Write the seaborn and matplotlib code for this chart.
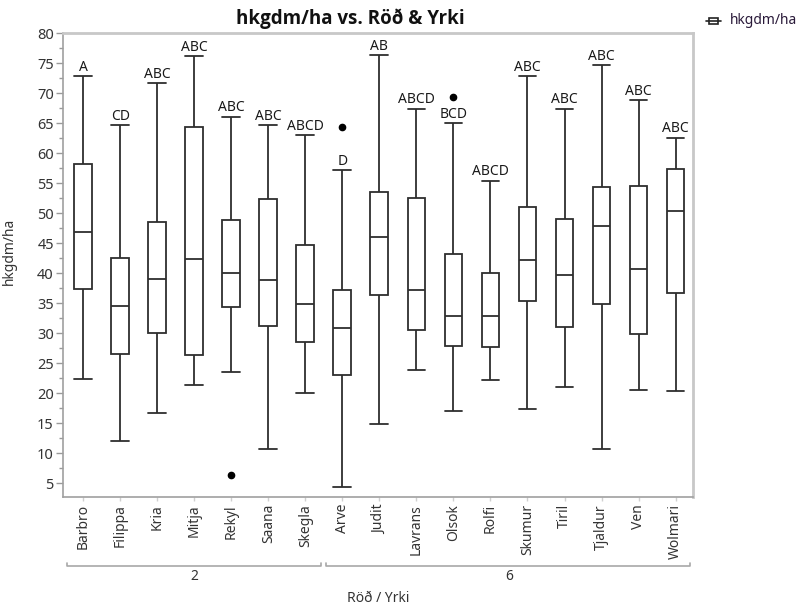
import numpy as np
import pandas as pd
import matplotlib
matplotlib.use("Agg")
import matplotlib.pyplot as plt
import matplotlib.transforms as mtransforms
from matplotlib.patches import Rectangle
from matplotlib.lines import Line2D
import seaborn as sns

# ---- data ----
categories = ["Barbro", "Filippa", "Kria", "Mitja", "Rekyl", "Saana", "Skegla",
              "Arve", "Judit", "Lavrans", "Olsok", "Rolfi", "Skumur", "Tiril",
              "Tjaldur", "Ven", "Wolmari"]
groups = ["2"] * 7 + ["6"] * 10
whisker_high = [72.9, 64.7, 71.7, 76.2, 66.1, 64.7, 63.0, 57.2, 76.4, 67.4,
                65.0, 55.4, 72.9, 67.4, 74.7, 68.8, 62.6]
q3 = [58.2, 42.6, 48.6, 64.4, 48.8, 52.4, 44.7, 37.2, 53.5, 52.5,
      43.2, 40.1, 51.0, 49.0, 54.3, 54.5, 57.4]
median = [46.9, 34.5, 39.1, 42.4, 40.1, 38.9, 34.9, 30.8, 46.0, 37.2,
          32.9, 32.9, 42.2, 39.7, 47.9, 40.7, 50.3]
q1 = [37.4, 26.5, 30.0, 26.3, 34.3, 31.2, 28.5, 23.0, 36.4, 30.5,
      27.9, 27.7, 35.4, 31.0, 34.8, 29.8, 36.7]
whisker_low = [22.4, 12.1, 16.7, 21.4, 23.5, 10.7, 20.1, 4.4, 14.8, 23.8,
               17.0, 22.2, 17.4, 21.0, 10.7, 20.5, 20.3]
outliers = {"Rekyl": 6.3, "Arve": 64.3, "Olsok": 69.3}
letters = ["A", "CD", "ABC", "ABC", "ABC", "ABC", "ABCD", "D", "AB", "ABCD",
           "BCD", "ABCD", "ABC", "ABC", "ABC", "ABC", "ABC"]
group_names = ["2", "6"]

# ---- build per-category samples reproducing the five-number summaries ----
rows = []
for i, c in enumerate(categories):
    lo, a, m, b, hi = whisker_low[i], q1[i], median[i], q3[i], whisker_high[i]
    if c in outliers:
        o = outliers[c]
        if o < lo:
            vals = [o, lo, a, a, m, b, b, hi, hi]
        else:
            vals = [lo, lo, a, a, m, b, b, hi, o]
    else:
        vals = [lo, a, m, b, hi]
    for v in vals:
        rows.append({"Yrki": c, "hkgdm/ha": v})
df = pd.DataFrame(rows)

sns.set_style("white")
plt.rcParams["font.family"] = ["Noto Sans", "DejaVu Sans"]

W, H = 803, 608
fig = plt.figure(figsize=(W / 100, H / 100), dpi=100)
ax = fig.add_axes([63.5 / W, 1 - 497 / H, 629.5 / W, 463.7 / H])

line_col = "#2e2e2e"
sns.boxplot(data=df, x="Yrki", y="hkgdm/ha", order=categories, ax=ax,
            color="white", linecolor=line_col, linewidth=1.3, width=0.48,
            capwidths=0.48,
            flierprops=dict(marker="o", markerfacecolor="black",
                            markeredgecolor="black", markersize=4.5))

ax.set_xlim(-0.53, 16.47)
ax.set_ylim(2.7, 80)
ax.set_yticks(np.arange(5, 81, 5))
ax.set_yticks(np.arange(7.5, 80, 5), minor=True)
ax.tick_params(axis="y", which="major", direction="out", length=5, width=1,
               color="#9a9a9a", labelsize=10.5, labelcolor="#333333", pad=2, left=True)
ax.tick_params(axis="y", which="minor", direction="out", length=3, width=1,
               color="#9a9a9a", left=True)
ax.tick_params(axis="x", which="major", direction="out", length=3, width=1,
               color="#d0d0d0", labelsize=10, labelcolor="#333333", pad=2, bottom=True)
ax.set_xticks(range(len(categories)))
ax.set_xticklabels(categories, rotation=90, va="top", ha="center")

for s in ["left", "bottom"]:
    ax.spines[s].set_color("#a0a0a0")
    ax.spines[s].set_linewidth(1.2)
for s in ["top", "right"]:
    ax.spines[s].set_color("#c8c8c8")
    ax.spines[s].set_linewidth(2)

ax.set_xlabel("")
ax.set_ylabel("hkgdm/ha", fontsize=10, color="#333333")
ax.yaxis.set_label_coords(-0.074, 0.53)

# connecting letters above each box
for i, lab in enumerate(letters):
    ax.annotate(lab, xy=(i, whisker_high[i]), xytext=(0, 1),
                textcoords="offset points", ha="center", va="bottom",
                fontsize=10, color="#1a1a1a")

# group brackets below the category labels
trans = mtransforms.blended_transform_factory(ax.transData, ax.transAxes)
spans = [(-0.44, 6.43), (6.57, 16.4)]
ypos = -0.149
for (x0, x1), g in zip(spans, group_names):
    ax.plot([x0, x0, x1, x1], [ypos + 0.007, ypos, ypos, ypos + 0.007],
            transform=trans, clip_on=False, color="#a8a8a8", lw=1.2)
    ax.text((x0 + x1) / 2 + 0.02, -0.172, g, transform=trans, ha="center",
            va="center", fontsize=10, color="#333333")

ax.text(0.5, -0.218, "Röð / Yrki", transform=ax.transAxes, ha="center",
        va="center", fontsize=10, color="#333333")

# title
fig.text(350 / W, 1 - 19 / H, "hkgdm/ha vs. Röð & Yrki", ha="center",
         va="center", fontsize=13.5, fontweight="bold", color="#111111",
         family=["Open Sans", "Lato", "DejaVu Sans"])

# legend with a small box-plot icon
fy = 1 - 21 / H
fig.add_artist(Line2D([706 / W, 721 / W], [fy, fy], color="#222222", lw=1.2,
                      transform=fig.transFigure))
fig.add_artist(Rectangle((709 / W, 1 - 24 / H), 9 / W, 6 / H,
                         facecolor="white", edgecolor="#222222", lw=1.2,
                         transform=fig.transFigure))
fig.text(730 / W, fy, "hkgdm/ha", ha="left", va="center", fontsize=10,
         color="#2a1a3a")

fig.savefig("out.png", dpi=100)
